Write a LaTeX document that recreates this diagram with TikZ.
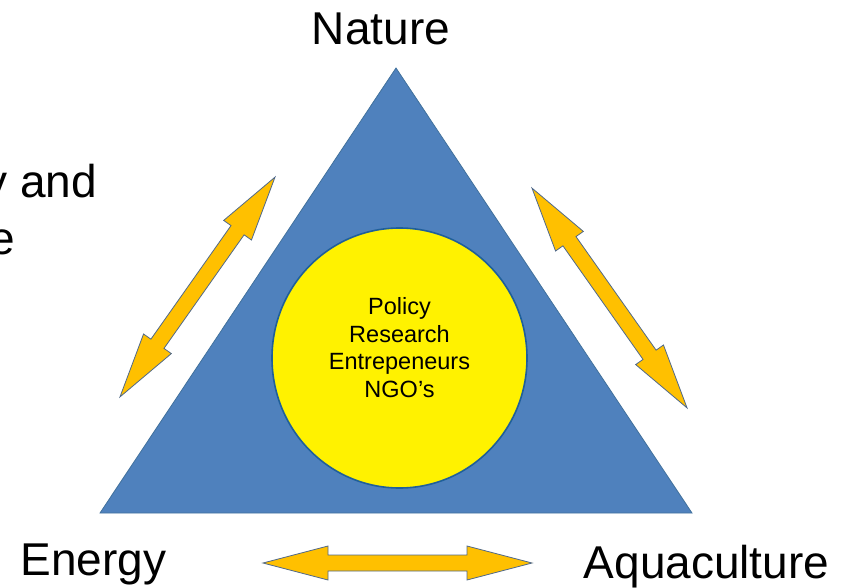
\documentclass[tikz,border=0pt]{standalone}
\usepackage{fontspec}
\setmainfont{Liberation Sans}
\usetikzlibrary{shapes.geometric,positioning}

\definecolor{triblue}{HTML}{4F81BD}
\definecolor{triedge}{HTML}{41719C}
\definecolor{hubedge}{HTML}{1F5F9A}
\definecolor{gold}{HTML}{FFC000}
\definecolor{goldedge}{HTML}{50698A}

% double block arrow, centred at #1 and turned by #2
\newcommand{\linkarrow}[2]{%
  \begin{scope}[shift={(#1)}, rotate=#2]
    \draw[link] (-134.5,0) -- (-69.5,-17) -- (-69.5,-8) -- (69.5,-8) -- (69.5,-17)
      -- (134.5,0) -- (69.5,17) -- (69.5,8) -- (-69.5,8) -- (-69.5,17) -- cycle;
  \end{scope}}

\begin{document}
\begin{tikzpicture}[
  x=1pt,
  y=-1pt,
  corner/.style={
    font=\fontsize{46}{55}\selectfont,
    inner sep=0pt
  },
  hub/.style={
    ellipse,
    draw=hubedge,
    line width=1.6pt,
    fill=yellow,
    minimum width=255pt,
    minimum height=260pt
  },
  roles/.style={
    align=center,
    font=\fontsize{23.5}{27.7}\selectfont,
    inner sep=0pt
  },
  tri/.style={
    fill=triblue,
    draw=triedge,
    line width=0.8pt,
    line join=miter
  },
  link/.style={
    fill=gold,
    draw=goldedge,
    line width=0.8pt,
    line join=miter
  }
]
\useasboundingbox (0,0) rectangle (850,588);

% Triangle
\coordinate (apex) at (396,68);
\coordinate (bl) at (100,513);
\coordinate (br) at (692,513);
\draw[tri] (apex) -- (bl) -- (br) -- cycle;

% Centre circle
\node[hub] (hub) at (399.5,358) {};
\node[roles] (who) at (399.5,347.5) {Policy\\Research\\Entrepeneurs\\NGO's};

% Corners
\node[corner, anchor=base] (nature) at (381,45) {Nature};
\node[corner, anchor=base] (energy) at (93.5,575) {Energy};
\node[corner, anchor=base] (aqua) at (706.5,578) {Aquaculture};

% Cut off text at the left
\node[corner, anchor=base east] (cut1) at (97,197) {y and};
\node[corner, anchor=base east] (cut2) at (15,254) {e};

% Arrows
\coordinate (natene) at (197.5,287);
\coordinate (nataqu) at (609.5,298);
\coordinate (eneaqu) at (397.5,563);
\linkarrow{natene}{54.8}
\linkarrow{nataqu}{-54.8}
\linkarrow{eneaqu}{0}

\end{tikzpicture}
\end{document}
